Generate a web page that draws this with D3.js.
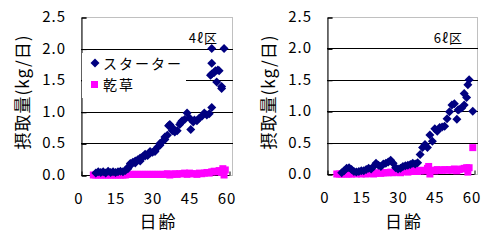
<!DOCTYPE html>
<html lang="ja">
  <head>
    <meta charset="UTF-8" />
    <script src="https://cdn.jsdelivr.net/npm/d3@7"></script>
    <style>
      * {
        margin: 0;
        padding: 0;
      }
      body {
        background: #fff;
      }
      svg {
        display: block;
        font-family: 'Noto Sans CJK JP', 'Noto Sans', sans-serif;
      }
    </style>
    <title>摂取量</title>
  </head>
  <body>
    <div id="container"></div>
  </body>
  <script>
    // [日齢, kg/日]
    const starter4 = [
      [6, 0.03], [7, 0.05], [8, 0.04], [9, 0.05], [10, 0.03], [11, 0.06], [12, 0.04],
      [13, 0.05], [14, 0.04], [15, 0.05], [16, 0.06], [17, 0.05], [18, 0.07], [19, 0.1],
      [19, 0.12], [20, 0.15], [20, 0.18], [21, 0.2], [22, 0.22], [22, 0.19], [23, 0.24],
      [24, 0.27], [24, 0.22], [25, 0.29], [26, 0.3], [26, 0.33], [27, 0.31], [28, 0.35],
      [28, 0.37], [29, 0.36], [30, 0.39], [30, 0.37], [31, 0.44], [32, 0.47], [32, 0.5],
      [33, 0.53], [34, 0.56], [34, 0.6], [35, 0.63], [35.5, 0.78], [36, 0.8], [37, 0.75],
      [37, 0.7], [38, 0.68], [39, 0.7], [40, 0.8], [40.5, 0.83], [41, 0.86], [42, 0.88],
      [43, 0.98], [44, 0.9], [44.5, 0.72], [45.5, 0.84], [46, 0.87], [47, 0.86], [48, 0.9],
      [49, 0.93], [50, 0.98], [51, 0.95], [52, 0.97], [53, 1.07], [52.5, 1.58], [53, 1.6],
      [53, 1.77], [53, 2.0], [54, 1.62], [54.5, 1.65], [55, 1.47], [55.5, 1.66], [56, 1.65],
      [57, 1.4], [57, 1.37], [58, 2.0],
    ];
    const hay4 = [
      [5, 0.0], [6, 0.0], [7, 0.0], [8, 0.0], [9, 0.0], [10, 0.0], [11, 0.0], [12, 0.0],
      [13, 0.0], [14, 0.0], [15, 0.0], [16, 0.0], [17, 0.0], [18, 0.0], [19, 0.01],
      [20, 0.01], [21, 0.01], [22, 0.01], [23, 0.01], [24, 0.01], [25, 0.01], [26, 0.01],
      [27, 0.01], [28, 0.01], [29, 0.01], [30, 0.01], [31, 0.01], [32, 0.01], [33, 0.01],
      [34, 0.01], [35, 0.02], [36, 0.0], [37, 0.01], [38, 0.02], [39, 0.01], [40, 0.02],
      [41, 0.02], [42, 0.03], [43, 0.01], [44, 0.03], [45, 0.02], [46, 0.02], [47, 0.01],
      [48, 0.03], [49, 0.02], [50, 0.03], [51, 0.04], [52, 0.03], [53, 0.05], [54, 0.06],
      [55, 0.05], [56, 0.07], [57, 0.04], [57.5, 0.1], [58, 0.0], [58.5, 0.08],
    ];
    const starter6 = [
      [6, 0.02], [7, 0.05], [8, 0.09], [9, 0.1], [10, 0.07], [11, 0.04], [12, 0.03],
      [13, 0.04], [14, 0.05], [15, 0.05], [16, 0.07], [17, 0.09], [18, 0.08], [19, 0.12],
      [20, 0.17], [21, 0.14], [22, 0.12], [23, 0.16], [24, 0.17], [25, 0.19], [26, 0.22],
      [27, 0.17], [28, 0.1], [29, 0.08], [30, 0.09], [31, 0.12], [32, 0.13], [33, 0.14],
      [34, 0.15], [35, 0.17], [36, 0.16], [37, 0.18], [38, 0.31], [39, 0.42], [40, 0.47],
      [41, 0.42], [42, 0.62], [43, 0.52], [44, 0.72], [45, 0.68], [46, 0.74], [47, 0.75],
      [48, 0.76], [49, 0.88], [50, 0.99], [51, 1.1], [52, 1.12], [53, 0.87], [53.5, 1.02],
      [54, 1.03], [55, 1.05], [56, 1.1], [56, 1.28], [57, 1.22], [57.5, 1.42], [58, 1.5],
      [59.5, 1.0],
    ];
    const hay6 = [
      [4, 0.0], [5, 0.0], [6, 0.0], [7, 0.0], [8, 0.0], [9, 0.0], [10, 0.0], [11, 0.01],
      [12, 0.0], [13, 0.01], [14, 0.0], [15, 0.01], [16, 0.0], [17, 0.01], [18, 0.01],
      [19, 0.0], [20, 0.01], [21, 0.02], [22, 0.01], [23, 0.02], [24, 0.02], [25, 0.02],
      [26, 0.03], [27, 0.02], [28, 0.03], [29, 0.03], [30, 0.02], [31, 0.04], [32, 0.04],
      [33, 0.03], [34, 0.05], [35, 0.04], [36, 0.06], [37, 0.04], [38, 0.05], [39, 0.06],
      [40, 0.05], [41, 0.09], [41.5, 0.12], [42, 0.0], [43, 0.06], [44, 0.05], [45, 0.07],
      [46, 0.06], [47, 0.06], [48, 0.07], [49, 0.06], [50, 0.07], [51, 0.06], [52, 0.08],
      [53, 0.05], [54, 0.07], [55, 0.08], [56, 0.09], [57, 0.1], [57.5, 0.03], [58, 0.1],
      [59.5, 0.42],
    ];

    const xTicks = [0, 15, 30, 45, 60];
    const yTicks = [0, 0.5, 1.0, 1.5, 2.0, 2.5];
    const seriesNames = ['スターター', '乾草'];

    const width = 498;
    const height = 243;
    const starterColor = '#000080';
    const hayColor = '#ff00ff';

    const svg = d3
      .select('#container')
      .append('svg')
      .attr('width', width)
      .attr('height', height);

    const diamond = 'M0,-4.5L4.5,0L0,4.5L-4.5,0Z';

    function drawPanel(o) {
      const x = d3.scaleLinear().domain([0, 60]).range([o.left, o.xEnd]);
      const y = d3.scaleLinear().domain([0, 2.5]).range([o.bottom, o.top]);
      const g = svg.append('g');

      // plot area border (dotted gray)
      g.append('rect')
        .attr('x', o.left + 0.5)
        .attr('y', o.top + 0.5)
        .attr('width', o.right - o.left)
        .attr('height', o.bottom - o.top)
        .attr('fill', 'none')
        .attr('stroke', '#808080')
        .attr('stroke-dasharray', '1,1');

      // gridlines
      g.append('g')
        .selectAll('line')
        .data(yTicks.slice(1, -1))
        .join('line')
        .attr('x1', o.left)
        .attr('x2', o.right + 1)
        .attr('y1', (d) => Math.round(y(d)) + 0.5)
        .attr('y2', (d) => Math.round(y(d)) + 0.5)
        .attr('stroke', '#000');

      // axes
      const yAxis = g
        .append('g')
        .attr('transform', `translate(${o.left + 0.5},0.5)`)
        .call(d3.axisRight(y).tickValues(yTicks).tickSize(5).tickFormat(''));
      const xAxis = g
        .append('g')
        .attr('transform', `translate(0.5,${o.bottom + 0.5})`)
        .call(d3.axisTop(x).tickValues(xTicks).tickSize(4).tickFormat(''));
      [yAxis, xAxis].forEach((a) => {
        a.select('.domain').attr('stroke', '#000');
        a.selectAll('.tick line').attr('stroke', '#000');
      });
      xAxis.select('.domain').attr('d', `M${o.left},0H${o.xEnd}`);

      // tick labels
      g.append('g')
        .selectAll('text')
        .data(yTicks)
        .join('text')
        .attr('x', o.left - 15)
        .attr('y', (d) => y(d) + 5)
        .attr('text-anchor', 'end')
        .attr('font-size', 15)
        .attr('letter-spacing', 1)
        .text((d) => d.toFixed(1));
      g.append('g')
        .selectAll('text')
        .data(xTicks)
        .join('text')
        .attr('x', (d) => x(d) - 2)
        .attr('y', o.bottom + 29)
        .attr('text-anchor', 'middle')
        .attr('font-size', 15)
        .attr('letter-spacing', 1)
        .text((d) => d);

      // axis titles
      g.append('text')
        .attr('transform', `translate(${o.left - 52},${92}) rotate(-90)`)
        .attr('text-anchor', 'middle')
        .attr('font-size', 17)
        .attr('letter-spacing', 1)
        .text('摂取量(kg/日)');
      g.append('text')
        .attr('x', (o.left + o.right) / 2 + 2)
        .attr('y', 228)
        .attr('text-anchor', 'middle')
        .attr('font-size', 17)
        .attr('letter-spacing', 2)
        .text('日齢');

      // label
      g.append('text')
        .attr('x', o.right - 14)
        .attr('y', 43)
        .attr('text-anchor', 'end')
        .attr('font-size', 13)
        .attr('letter-spacing', 1)
        .text(o.label);

      // legend (left panel only)
      if (o.legend) {
        g.append('rect')
          .attr('x', o.left + 1)
          .attr('y', 53)
          .attr('width', 104)
          .attr('height', 45)
          .attr('fill', '#fff');
        const lg = g.append('g');
        lg.append('path')
          .attr('d', diamond)
          .attr('transform', 'translate(95,63)')
          .attr('fill', starterColor);
        lg.append('rect')
          .attr('x', 91)
          .attr('y', 81)
          .attr('width', 7)
          .attr('height', 7)
          .attr('fill', hayColor);
        lg.selectAll('text')
          .data(seriesNames)
          .join('text')
          .attr('x', 103)
          .attr('y', (d, i) => 69 + i * 21)
          .attr('font-size', 14)
          .attr('letter-spacing', 2)
          .text((d) => d);
      }

      // hay squares
      g.append('g')
        .selectAll('rect')
        .data(o.hay)
        .join('rect')
        .attr('x', (d) => x(d[0]) - 3.5)
        .attr('y', (d) => y(d[1]) - 3.5)
        .attr('width', 7)
        .attr('height', 7)
        .attr('fill', hayColor);

      // starter diamonds
      g.append('g')
        .selectAll('path')
        .data(o.starter)
        .join('path')
        .attr('d', diamond)
        .attr('transform', (d) => `translate(${x(d[0])},${y(d[1])})`)
        .attr('fill', starterColor);
    }

    drawPanel({
      left: 81,
      xEnd: 229,
      right: 232,
      top: 17,
      bottom: 175,
      starter: starter4,
      hay: hay4,
      label: '4ℓ区',
      legend: true,
    });
    drawPanel({
      left: 327,
      xEnd: 474,
      right: 477,
      top: 17,
      bottom: 174,
      starter: starter6,
      hay: hay6,
      label: '6ℓ区',
      legend: false,
    });
  </script>
</html>
